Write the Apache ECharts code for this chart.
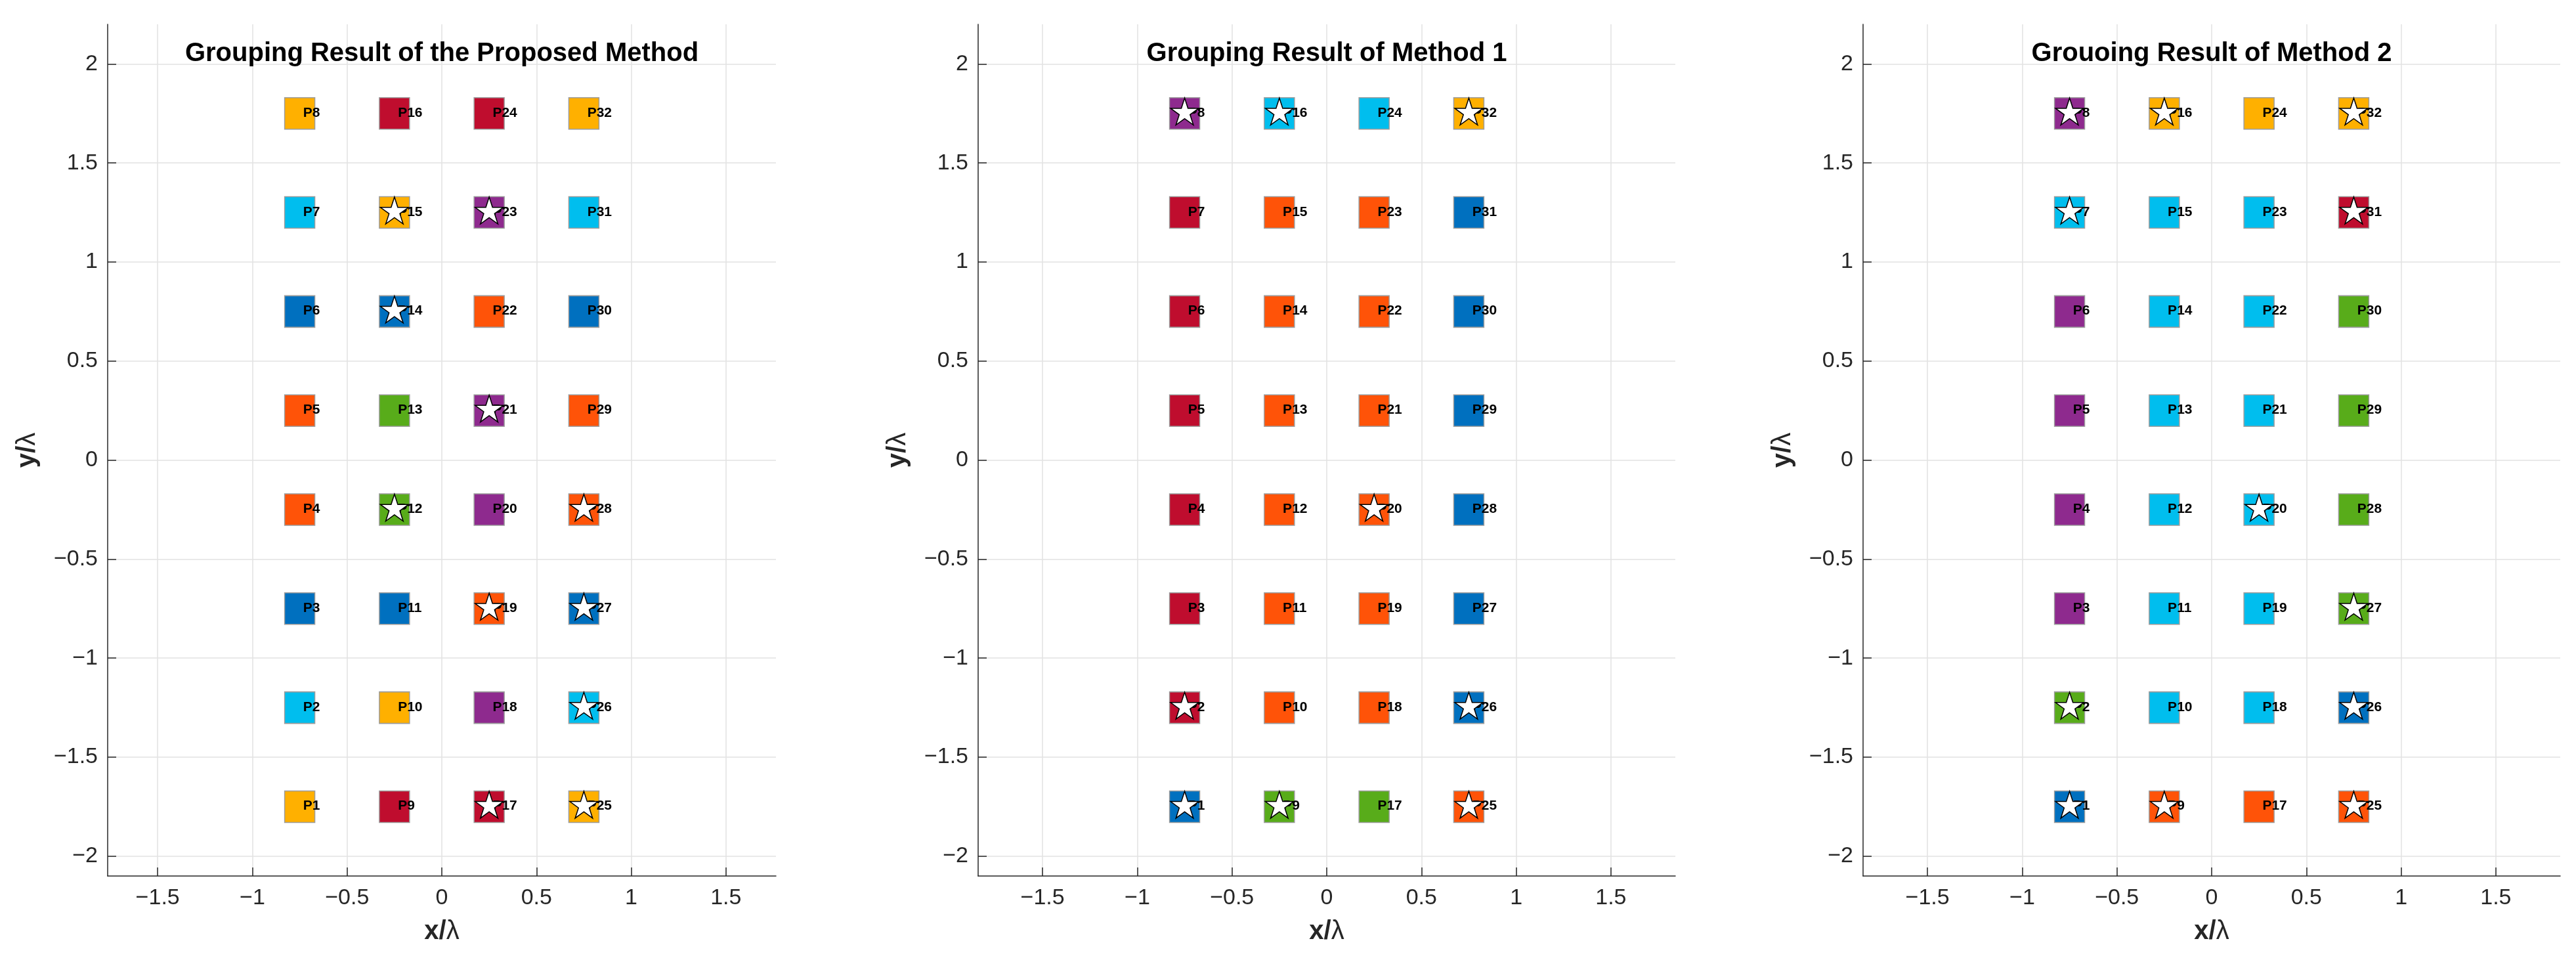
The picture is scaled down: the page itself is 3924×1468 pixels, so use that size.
<!DOCTYPE html>
<html>
<head>
<meta charset="utf-8">
<title>Grouping Result</title>
<script src="https://cdn.jsdelivr.net/npm/echarts@6.0.0/dist/echarts.min.js"></script>
<style>
html,body{margin:0;padding:0;background:#fff;}
#chart{width:3924px;height:1468px;}
</style>
</head>
<body>
<div id="chart"></div>
<script>
// element grid (in wavelengths)
const colX = [-0.75, -0.25, 0.25, 0.75];
const rowY = [-1.75, -1.25, -0.75, -0.25, 0.25, 0.75, 1.25, 1.75];
const xTicks = [-1.5, -1, -0.5, 0, 0.5, 1, 1.5];
const yTicks = [-2, -1.5, -1, -0.5, 0, 0.5, 1, 1.5, 2];

const titles = [
    'Grouping Result of the Proposed Method',
    'Grouping Result of Method 1',
    'Grouoing Result of Method 2'
];

// group of P1..P32 (Y yellow, C cyan, B blue, O orange, G green, R red, P purple)
const proposedGroup = [
    'Y','C','B','O','O','B','C','Y',
    'R','Y','B','G','G','B','Y','R',
    'R','P','O','P','P','O','P','R',
    'Y','C','B','O','O','B','C','Y'
];
const method1Group = [
    'B','R','R','R','R','R','R','P',
    'G','O','O','O','O','O','O','C',
    'G','O','O','O','O','O','O','C',
    'O','B','B','B','B','B','B','Y'
];
const method2Group = [
    'B','G','P','P','P','P','C','P',
    'O','C','C','C','C','C','C','Y',
    'O','C','C','C','C','C','C','Y',
    'O','B','G','G','G','G','R','Y'
];
// starred elements
const proposedStars = [12,14,15,17,19,21,23,25,26,27,28];
const method1Stars = [1,2,8,9,16,20,25,26,32];
const method2Stars = [1,2,7,8,9,16,20,25,26,27,31,32];

const groups = [proposedGroup, method1Group, method2Group];
const stars = [proposedStars, method1Stars, method2Stars];

const colorMap = {
    Y: '#FFB000', C: '#00BEEE', B: '#0070BF', O: '#FF5308',
    G: '#58AC1A', R: '#BF0D2E', P: '#8E2A8E'
};
const FONT = "'Liberation Sans', Arial, Helvetica, sans-serif";
const AX = '#262626';
const STAR = 'path://M50 0L61.23 34.55L97.55 34.55L68.16 55.9L79.39 90.45L50 69.1L20.61 90.45L31.84 55.9L2.45 34.55L38.77 34.55Z';

const panels = [
    {left: 164, width: 1018, xLim: 1.764},
    {left: 1490, width: 1062, xLim: 1.84},
    {left: 2838, width: 1062, xLim: 1.84}
];
const gridTop = 37, gridHeight = 1297;

function fmt(v){
    return v < 0 ? '\u2212' + Math.abs(v) : String(v);
}
function points(g){
    let pts = [];
    colX.forEach((x, c) => {
        rowY.forEach((y, r) => {
            let n = c * rowY.length + r + 1;
            pts.push({n: n, x: x, y: y, g: g[n - 1]});
        });
    });
    return pts;
}
function axisName(txt){
    return {
        text: '{b|' + txt + '/}{l|\u03bb}',
        style: {
            color: AX,
            rich: {
                b: {fontSize: 40, fontWeight: 'bold', color: AX, fontFamily: FONT},
                l: {fontSize: 40, color: AX, fontFamily: FONT}
            }
        }
    };
}
function axisCommon(ticks){
    return {
        type: 'value',
        axisLine: {onZero: false, lineStyle: {color: AX, width: 1.5}},
        axisTick: {inside: true, length: 13, customValues: ticks, lineStyle: {color: AX, width: 1.5}},
        axisLabel: {customValues: ticks, fontSize: 34, color: AX, fontFamily: FONT, formatter: fmt},
        splitLine: {show: true, lineStyle: {color: '#E2E2E2', width: 1.5}},
        nameLocation: 'middle'
    };
}

let grid = [], xAxis = [], yAxis = [], series = [], graphic = [];
panels.forEach((p, i) => {
    grid.push({left: p.left, top: gridTop, width: p.width, height: gridHeight, outerBoundsMode: 'none'});

    let xn = axisName('x'), yn = axisName('y');
    let xa = axisCommon(xTicks);
    Object.assign(xa, {gridIndex: i, min: -p.xLim, max: p.xLim, name: xn.text, nameGap: 65, nameTextStyle: xn.style});
    xa.axisLabel.margin = 17;
    xAxis.push(xa);

    let ya = axisCommon(yTicks);
    Object.assign(ya, {gridIndex: i, min: -2.1, max: 2.2, name: yn.text, nameGap: 102, nameTextStyle: yn.style});
    ya.axisLabel.margin = 15;
    yAxis.push(ya);

    let pts = points(groups[i]);
    series.push({
        type: 'scatter', xAxisIndex: i, yAxisIndex: i, z: 2,
        symbol: 'rect', symbolSize: [46, 48], silent: true,
        itemStyle: {borderColor: '#9c9c9c', borderWidth: 1.5, opacity: 1},
        label: {
            show: true, formatter: '{b}', position: [29, 24], align: 'left', verticalAlign: 'middle',
            fontSize: 21, fontWeight: 'bold', color: '#000', fontFamily: FONT
        },
        data: pts.map(q => ({name: 'P' + q.n, value: [q.x, q.y], itemStyle: {color: colorMap[q.g]}}))
    });
    series.push({
        type: 'scatter', xAxisIndex: i, yAxisIndex: i, z: 3,
        symbol: STAR, symbolSize: [43, 41], symbolOffset: [0, -3], silent: true,
        itemStyle: {color: '#fff', borderColor: '#000', borderWidth: 1.5, opacity: 1},
        data: pts.filter(q => stars[i].indexOf(q.n) > -1).map(q => [q.x, q.y])
    });
    graphic.push({
        type: 'text', x: p.left + p.width / 2, y: 62, z: 10,
        style: {
            text: titles[i], align: 'center', verticalAlign: 'top',
            fontSize: 40, fontWeight: 'bold', fill: '#000', fontFamily: FONT
        }
    });
});

let chart = echarts.init(document.getElementById('chart'));
chart.setOption({
    animation: false,
    backgroundColor: '#fff',
    textStyle: {fontFamily: FONT},
    grid: grid,
    xAxis: xAxis,
    yAxis: yAxis,
    series: series,
    graphic: graphic
});
window.addEventListener('resize', () => chart.resize());
</script>
</body>
</html>
